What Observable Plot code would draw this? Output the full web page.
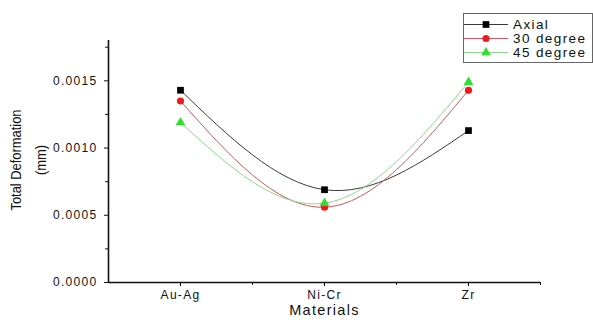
<!DOCTYPE html>
<html><head><meta charset="utf-8">
<script src="https://cdn.jsdelivr.net/npm/d3@7"></script>
<script src="https://cdn.jsdelivr.net/npm/@observablehq/plot@0.6"></script>
<style>
body{margin:0;background:#fff;}
#wrap{position:relative;width:593px;height:320px;font-family:"Liberation Sans",Arial,sans-serif;color:#111;}
#wrap svg text{letter-spacing:1.3px;}
.ylab{position:absolute;white-space:nowrap;font-family:"Liberation Sans Narrow","Arial Narrow","Liberation Sans",sans-serif;font-size:15px;line-height:15px;transform:translate(-50%,-50%) rotate(-90deg) scaleX(0.86);}
#legend{position:absolute;left:463px;top:13px;width:128px;height:48px;border:1px solid #666;background:#fff;}
.row{position:absolute;left:0;height:13px;line-height:13px;display:flex;align-items:center;font-size:13.5px;letter-spacing:1.4px;white-space:nowrap;}
.row svg{display:block;}
</style></head><body><div id="wrap"></div>
<script>
const materials = ["Au-Ag", "Ni-Cr", "Zr"];
const seriesNames = ["Axial", "30 degree", "45 degree"];
const axial = [0.00143, 0.00069, 0.00113];
const deg30 = [0.00135, 0.00056, 0.00143];
const deg45 = [0.00119, 0.00059, 0.00149];
const yTicks = [0, 0.0005, 0.0010, 0.0015];
const yMinorTicks = [0.00025, 0.00075, 0.00125, 0.00175];
const xMinorTicks = [1.5, 2.5, 3.5];
const yLabelLines = ["Total Deformation", "(mm)"];
const xLabel = "Materials";

const markerColors = ["#000000", "#ee1c1c", "#2ee02e"];
const lineColors = ["#3a3a3a", "#c65a5a", "#8ad88a"];
const symbols = ["square", "circle", "triangle"];
const symbolR = [3.8, 3.6, 3.6];
const seriesValues = [axial, deg30, deg45];

const series = seriesValues.map((vals, s) => vals.map((v, i) => ({series: seriesNames[s], xi: i + 1, v})));

const marks = [
  Plot.axisY({ticks: yTicks, tickFormat: d3.format(".4f"), tickSize: 4, tickPadding: 7, label: null, fontSize: 12}),
  Plot.axisY({ticks: yMinorTicks, tickFormat: () => "", tickSize: 3, label: null}),
  Plot.axisX({ticks: [1, 2, 3], tickFormat: i => materials[i - 1], tickSize: 4, tickPadding: 4, label: null, fontSize: 12}),
  Plot.axisX({ticks: xMinorTicks, tickFormat: () => "", tickSize: 3, label: null}),
  Plot.ruleX([0.5], {strokeWidth: 1.6}),
  Plot.ruleY([0], {strokeWidth: 1.6}),
  Plot.text([xLabel], {frameAnchor: "bottom", dy: 32, fontSize: 14.5})
];
series.forEach((d, s) => {
  marks.push(Plot.line(d, {x: "xi", y: "v", stroke: lineColors[s], strokeWidth: 1, curve: "natural"}));
});
series.forEach((d, s) => {
  marks.push(Plot.dot(d, {x: "xi", y: "v", symbol: () => symbols[s], fill: markerColors[s], stroke: "none", r: symbolR[s]}));
});

const chart = Plot.plot({
  width: 593, height: 320,
  marginLeft: 108, marginRight: 53, marginTop: 40, marginBottom: 38,
  x: {type: "linear", domain: [0.5, 3.5]},
  y: {domain: [0, 0.0018]},
  symbol: {type: "identity"},
  style: {fontFamily: "'Liberation Sans', Arial, sans-serif", color: "#111", background: "#fff"},
  marks
});
const wrap = document.getElementById("wrap");
wrap.appendChild(chart);

// y label
const ylabX = [15, 40];
yLabelLines.forEach((t, i) => {
  const el = document.createElement("div");
  el.className = "ylab";
  el.textContent = t;
  el.style.left = ylabX[i] + "px";
  el.style.top = "160px";
  wrap.appendChild(el);
});

// legend
const legend = document.createElement("div");
legend.id = "legend";
const rowTops = [3.5, 17.5, 32];
seriesNames.forEach((name, s) => {
  const row = document.createElement("div");
  row.className = "row";
  row.style.top = rowTops[s] + "px";
  const type = s === 0 ? d3.symbolSquare : s === 1 ? d3.symbolCircle : d3.symbolTriangle;
  const sym = d3.symbol(type, Math.PI * symbolR[s] * symbolR[s])();
  row.innerHTML = `<svg width="46" height="13"><line x1="0" x2="44" y1="6.5" y2="6.5" stroke="${lineColors[s]}" stroke-width="1"/><path transform="translate(22,6.5)" d="${sym}" fill="${markerColors[s]}"/></svg><span style="margin-left:3px">${name}</span>`;
  legend.appendChild(row);
});
wrap.appendChild(legend);
</script>
</body></html>
